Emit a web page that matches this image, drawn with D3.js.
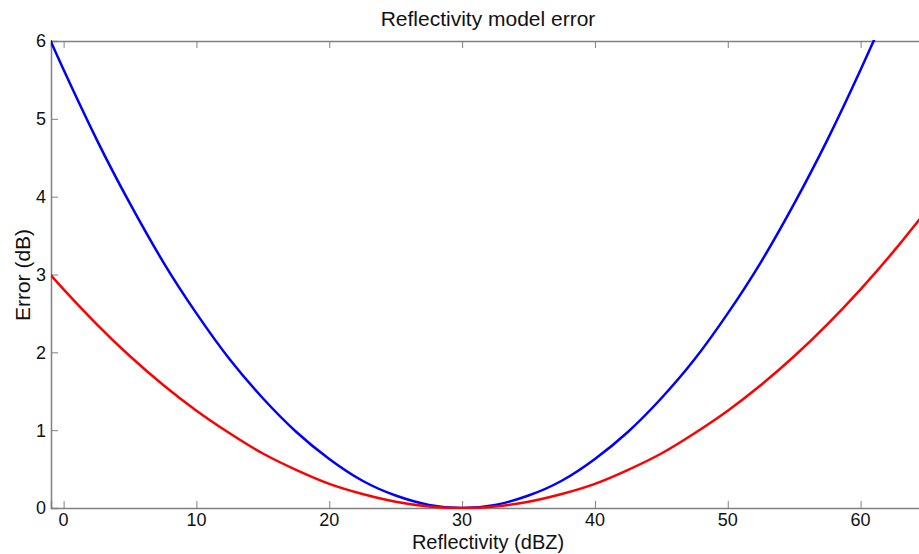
<!DOCTYPE html>
<html>
<head>
<meta charset="utf-8">
<script src="https://cdn.jsdelivr.net/npm/d3@7"></script>
<style>
  html, body { margin: 0; padding: 0; background: #fff; overflow: hidden; }
  svg { display: block; font-family: "Liberation Sans", Arial, sans-serif; }
</style>
</head>
<body>
<svg id="chart" width="919" height="554"></svg>
<script>
(function () {
  'use strict';

  // ── Data ──────────────────────────────────────────────────────────────────
  const reflectivity = [-1, 0, 2.5, 5, 7.5, 10, 12.5, 15, 17.5, 20, 22.5, 25, 27.5, 30,
                        32.5, 35, 37.5, 40, 42.5, 45, 47.5, 50, 52.5, 55, 57.5, 60, 62.5, 65];
  const blueError = [6.01, 5.63, 4.73, 3.91, 3.16, 2.50, 1.91, 1.41, 0.98, 0.63, 0.35, 0.16, 0.04, 0,
                     0.04, 0.16, 0.35, 0.63, 0.98, 1.41, 1.91, 2.50, 3.16, 3.91, 4.73, 5.63, 6.60, 7.66];
  const redError  = [3.00, 2.81, 2.36, 1.95, 1.58, 1.25, 0.96, 0.70, 0.49, 0.31, 0.18, 0.08, 0.02, 0,
                     0.02, 0.08, 0.18, 0.31, 0.49, 0.70, 0.96, 1.25, 1.58, 1.95, 2.36, 2.81, 3.30, 3.83];
  const xTicks = [0, 10, 20, 30, 40, 50, 60];
  const yTicks = [0, 1, 2, 3, 4, 5, 6];

  const series = [
    { color: '#0000ff', values: blueError },
    { color: '#ff0000', values: redError }
  ];

  // ── Layout ────────────────────────────────────────────────────────────────
  const L = 51, R = 927, T = 41, B = 508;
  const AXIS = '#808080', TICK_LEN = 7;

  const svg = d3.select('#chart');
  const x = d3.scaleLinear().domain([-0.95, 65]).range([L, R]);
  const y = d3.scaleLinear().domain([0, 6]).range([B, T]);

  svg.append('defs').append('clipPath').attr('id', 'plot-clip')
    .append('rect').attr('x', L).attr('y', T - 1).attr('width', R - L).attr('height', B - T + 2);

  // ── Axes (box with inward ticks) ───────────────────────────────────────────
  const axisG = svg.append('g').attr('font-size', 18).attr('fill', '#000');

  const bottom = axisG.append('g').attr('transform', `translate(0,${B})`)
    .call(d3.axisTop(x).tickValues(xTicks).tickSize(TICK_LEN).tickFormat(''));
  const top = axisG.append('g').attr('transform', `translate(0,${T})`)
    .call(d3.axisBottom(x).tickValues(xTicks).tickSize(TICK_LEN).tickFormat(''));
  const left = axisG.append('g').attr('transform', `translate(${L},0)`)
    .call(d3.axisRight(y).tickValues(yTicks).tickSize(TICK_LEN).tickFormat(''));
  const right = axisG.append('g').attr('transform', `translate(${R},0)`)
    .call(d3.axisLeft(y).tickValues(yTicks).tickSize(TICK_LEN).tickFormat(''));

  [bottom, top, left, right].forEach(g => {
    g.select('.domain').attr('stroke', AXIS).attr('stroke-width', 1.5);
    g.selectAll('.tick line').attr('stroke', AXIS).attr('stroke-width', 1);
  });

  // tick labels
  axisG.append('g').selectAll('text').data(xTicks).join('text')
    .attr('x', d => x(d)).attr('y', B + 18)
    .attr('text-anchor', 'middle').attr('fill', '#111')
    .text(d => d);
  axisG.append('g').selectAll('text').data(yTicks).join('text')
    .attr('x', L - 5).attr('y', d => y(d)).attr('dy', '0.36em')
    .attr('text-anchor', 'end').attr('fill', '#111')
    .text(d => d);

  // ── Curves ─────────────────────────────────────────────────────────────────
  const line = d3.line()
    .x((d, i) => x(reflectivity[i]))
    .y(d => y(d))
    .curve(d3.curveNatural);

  svg.append('g').attr('clip-path', 'url(#plot-clip)')
    .selectAll('path').data(series).join('path')
    .attr('d', s => line(s.values))
    .attr('fill', 'none')
    .attr('stroke', s => s.color)
    .attr('stroke-width', 2.5)
    .attr('stroke-linejoin', 'round');

  // ── Titles ─────────────────────────────────────────────────────────────────
  svg.append('text').attr('x', 488).attr('y', 26)
    .attr('text-anchor', 'middle').attr('font-size', 21).attr('fill', '#111')
    .text('Reflectivity model error');
  svg.append('text').attr('x', 488).attr('y', 549)
    .attr('text-anchor', 'middle').attr('font-size', 20).attr('fill', '#111')
    .text('Reflectivity (dBZ)');
  svg.append('text')
    .attr('transform', 'translate(30,275) rotate(-90)')
    .attr('text-anchor', 'middle').attr('font-size', 21).attr('fill', '#111')
    .text('Error (dB)');
})();
</script>
</body>
</html>
